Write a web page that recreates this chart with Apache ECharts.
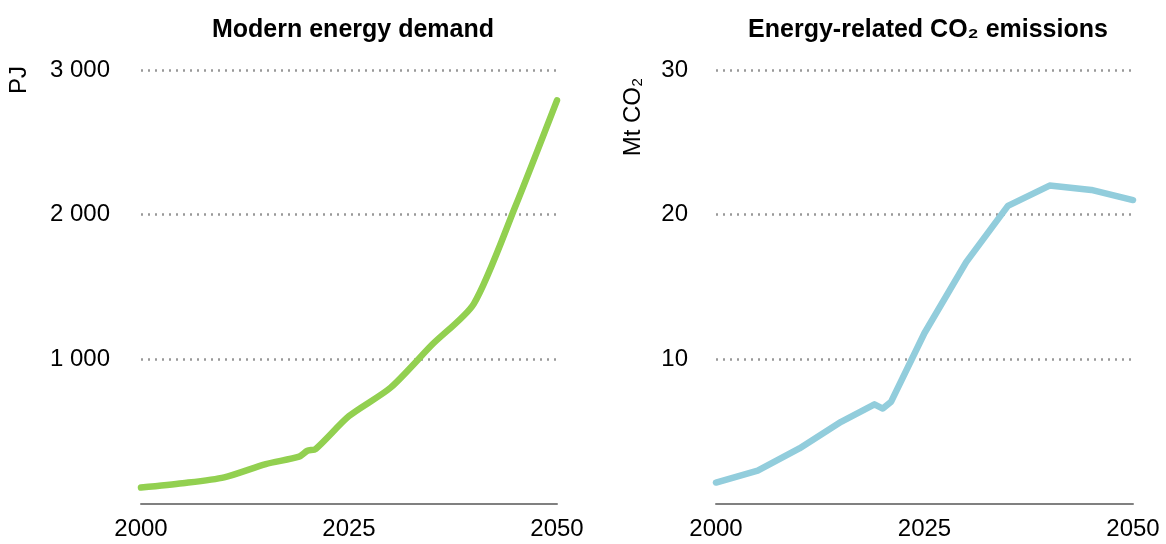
<!DOCTYPE html>
<html>
<head>
<meta charset="utf-8">
<script src="https://cdn.jsdelivr.net/npm/echarts@6/dist/echarts.min.js"></script>
<style>html,body{margin:0;padding:0;background:#fff}#c{width:1166px;height:544px}</style>
</head>
<body>
<div id="c"></div>
<script>
const energyYears = [2000, 2005, 2010, 2015, 2019, 2020, 2021, 2025, 2030, 2035, 2040, 2045, 2050];
const energyValues = [110, 140, 181, 273, 324, 365, 378, 605, 802, 1100, 1382, 2057, 2790];
const co2Years = [2000, 2005, 2010, 2015, 2019, 2020, 2021, 2025, 2030, 2035, 2040, 2045, 2050];
const co2Values = [1.45, 2.28, 3.81, 5.65, 6.86, 6.57, 7.05, 11.8, 16.7, 20.6, 22.0, 21.7, 21.0];
const xTicks = [2000, 2025, 2050];
const titles = ['Modern energy demand', 'Energy-related CO₂ emissions'];
const yNames = ['PJ', 'Mt CO₂'];

const FONT = 'Liberation Sans';
const chart = echarts.init(document.getElementById('c'));
function pairs(xs, ys){ return xs.map((x,i)=>[x, ys[i]]); }
function fmtThousands(v){ return v === 0 ? '' : String(v).replace(/\B(?=(\d{3})+(?!\d))/g, ' '); }
function xAxis(gi){
  return {
    type: 'value', gridIndex: gi, min: xTicks[0], max: xTicks[2], interval: 25,
    axisLine: {show: true, lineStyle: {color: '#808080', width: 2}},
    axisTick: {show: false}, splitLine: {show: false},
    axisLabel: {color: '#000', fontFamily: FONT, fontSize: 24, margin: 14, formatter: v => String(v)}
  };
}
function yAxis(gi, max, interval, fmt, margin){
  return {
    type: 'value', gridIndex: gi, min: 0, max: max, interval: interval,
    axisLine: {show: false}, axisTick: {show: false},
    splitLine: {show: true, showMinLine: false, lineStyle: {color: '#999999', width: 2.5, type: [2, 5]}},
    axisLabel: {color: '#000', fontFamily: FONT, fontSize: 24, margin: margin, formatter: fmt}
  };
}
const titleStyle = {fontFamily: FONT, fontWeight: 'bold', fontSize: 25, color: '#000'};
chart.setOption({
  animation: false,
  title: [
    {text: titles[0], left: 348, top: 13, textAlign: 'center', textStyle: titleStyle},
    {text: titles[1], left: 923, top: 13, textAlign: 'center', textStyle: titleStyle}
  ],
  grid: [
    {left: 141, right: 609, top: 70, bottom: 40.5},
    {left: 716, right: 33, top: 70, bottom: 40.5}
  ],
  xAxis: [xAxis(0), xAxis(1)],
  yAxis: [
    yAxis(0, 3000, 1000, fmtThousands, 31),
    yAxis(1, 30, 10, v => v === 0 ? '' : String(v), 28)
  ],
  graphic: [
    {type: 'text', x: 19, y: 80, rotation: Math.PI/2, style: {text: yNames[0], font: '24px "Liberation Sans"', fill: '#000', align: 'center', verticalAlign: 'middle'}},
    {type: 'text', x: 633, y: 117, rotation: Math.PI/2, style: {text: yNames[1], font: '24px "Liberation Sans"', fill: '#000', align: 'center', verticalAlign: 'middle'}}
  ],
  series: [
    {type: 'line', xAxisIndex: 0, yAxisIndex: 0, data: pairs(energyYears, energyValues), smooth: 0.25, showSymbol: false, lineStyle: {color: '#92D050', width: 6.5, cap: 'round', join: 'round'}},
    {type: 'line', xAxisIndex: 1, yAxisIndex: 1, data: pairs(co2Years, co2Values), smooth: false, showSymbol: false, lineStyle: {color: '#92CDDC', width: 6.5, cap: 'round', join: 'round'}}
  ]
});
</script>
</body>
</html>
